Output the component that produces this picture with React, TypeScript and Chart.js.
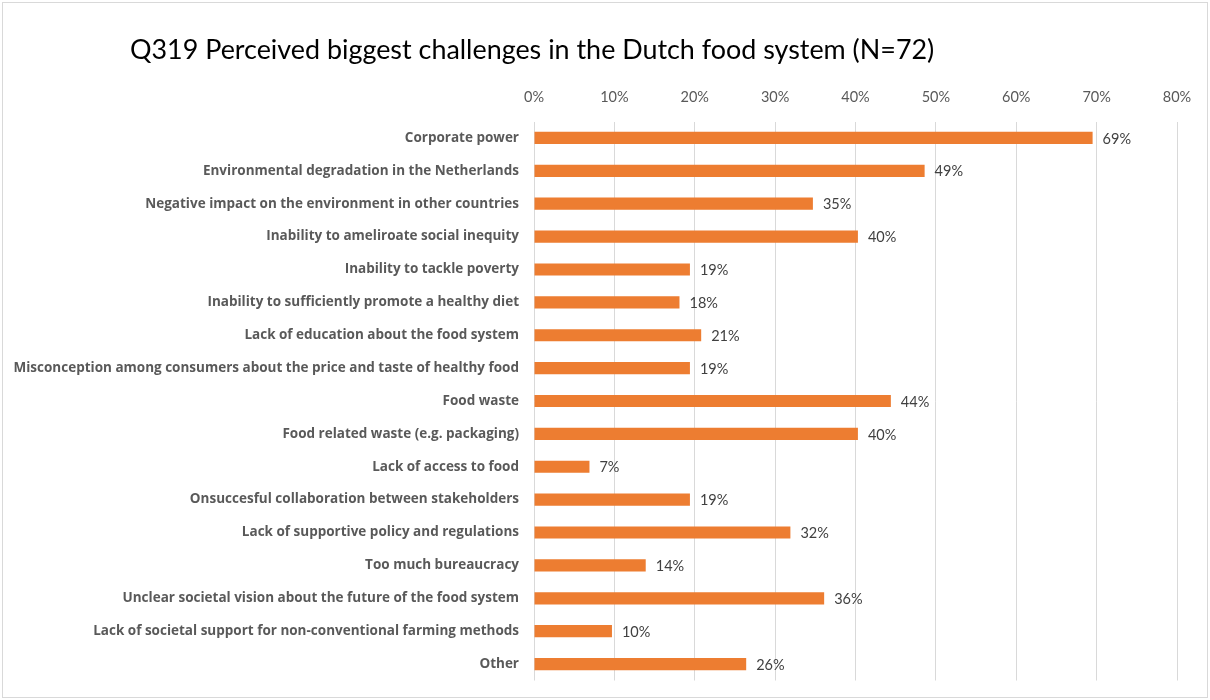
import React, { useEffect, useRef } from "react";
import { Chart, registerables } from "chart.js";

Chart.register(...registerables);

const TITLE = "Q319 Perceived biggest challenges in the Dutch food system (N=72)";

const CATEGORIES = [
  "Corporate power",
  "Environmental degradation in the Netherlands",
  "Negative impact on the environment in other countries",
  "Inability to ameliroate social inequity",
  "Inability to tackle poverty",
  "Inability to sufficiently promote a healthy diet",
  "Lack of education about the food system",
  "Misconception among consumers about the price and taste of healthy food",
  "Food waste",
  "Food related waste (e.g. packaging)",
  "Lack of access to food",
  "Onsuccesful collaboration between stakeholders",
  "Lack of supportive policy and regulations",
  "Too much bureaucracy",
  "Unclear societal vision about the future of the food system",
  "Lack of societal support for non-conventional farming methods",
  "Other",
];

const VALUES = [
  69.5, 48.6, 34.7, 40.3, 19.4, 18.1, 20.8, 19.4, 44.4, 40.3, 6.9, 19.4, 31.9, 13.9, 36.1, 9.7,
  26.4,
];

const LABELS = [
  "69%", "49%", "35%", "40%", "19%", "18%", "21%", "19%", "44%", "40%", "7%", "19%", "32%",
  "14%", "36%", "10%", "26%",
];

const TICK_VALUES = [0, 10, 20, 30, 40, 50, 60, 70, 80];

const LATO = "Lato, 'Open Sans', sans-serif";
const OPEN = "'Open Sans', Lato, sans-serif";

export default function App() {
  const ref = useRef<HTMLCanvasElement | null>(null);

  useEffect(() => {
    if (!ref.current) return;

    const decor = {
      id: "decor",
      beforeDraw(chart: any) {
        const ctx = chart.ctx;
        ctx.save();
        ctx.fillStyle = "#ffffff";
        ctx.fillRect(0, 0, chart.width, chart.height);
        ctx.strokeStyle = "#d9d9d9";
        ctx.lineWidth = 1;
        ctx.strokeRect(2.5, 2.5, chart.width - 5, chart.height - 5);
        ctx.restore();
      },
      afterDraw(chart: any) {
        const ctx = chart.ctx;
        ctx.save();
        ctx.fillStyle = "#000000";
        ctx.font = `26.9px ${LATO}`;
        ctx.textBaseline = "middle";
        ctx.textAlign = "left";
        ctx.fillText(TITLE, 130, 50);

        const meta = chart.getDatasetMeta(0);
        ctx.fillStyle = "#404040";
        ctx.font = `14.5px ${LATO}`;
        meta.data.forEach((bar: any, i: number) => {
          ctx.fillText(LABELS[i], bar.x + 10, bar.y + 1);
        });
        ctx.restore();
      },
    };

    const chart = new Chart(ref.current, {
      type: "bar",
      data: {
        labels: CATEGORIES,
        datasets: [
          {
            data: VALUES,
            backgroundColor: "#ED7D31",
            borderWidth: 0,
            barPercentage: 0.37,
            categoryPercentage: 1,
          },
        ],
      },
      options: {
        indexAxis: "y",
        animation: false,
        responsive: false,
        devicePixelRatio: 1,
        layout: { padding: { left: 0, right: 33, top: 0, bottom: 19.5 } },
        plugins: {
          legend: { display: false },
          tooltip: { enabled: false },
          title: { display: false },
        },
        scales: {
          x: {
            position: "top",
            min: 0,
            max: 80,
            afterBuildTicks(scale: any) {
              scale.ticks = TICK_VALUES.map((v) => ({ value: v }));
            },
            afterFit(scale: any) {
              scale.height = 121.5;
              scale.paddingLeft = 0;
              scale.paddingRight = 0;
            },
            ticks: {
              callback: (v: any) => `${v}%`,
              color: "#595959",
              font: { family: LATO, size: 14.5 },
              padding: 15,
              maxRotation: 0,
            },
            grid: { color: "#d9d9d9", drawTicks: false, lineWidth: 1 },
            border: { display: false },
          },
          y: {
            afterFit(scale: any) {
              scale.width = 534;
              scale.paddingTop = 0;
              scale.paddingBottom = 0;
            },
            ticks: {
              color: "#595959",
              font: { family: OPEN, size: 13.5, weight: "bold" },
              padding: 15,
              autoSkip: false,
            },
            grid: { display: false, drawTicks: false },
            border: { display: false },
          },
        },
      },
      plugins: [decor],
    });

    return () => chart.destroy();
  }, []);

  return (
    <div style={{ position: "fixed", left: 0, top: 0, width: 1210, height: 700 }}>
      <canvas ref={ref} width={1210} height={700} style={{ display: "block" }} />
    </div>
  );
}
